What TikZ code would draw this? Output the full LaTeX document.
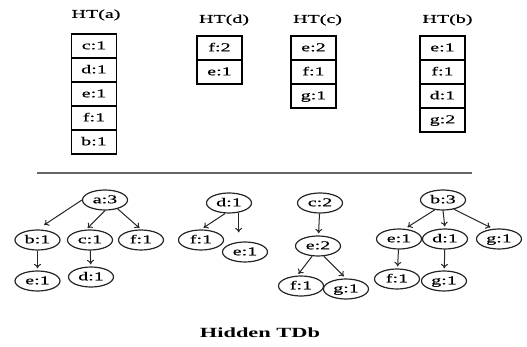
\documentclass[tikz,border=0pt]{standalone}
\usepackage{fontspec}
\setmainfont{Liberation Serif}
\newfontfamily\widefont{Liberation Serif}[FakeStretch=1.67,FakeBold=0.6]
\newfontfamily\widebold{Liberation Serif Bold}[FakeStretch=1.6]
\usetikzlibrary{positioning,shapes.geometric,arrows.meta}

\tikzset{cell/.style={draw=black,line width=1.3pt,minimum width=45pt,minimum height=24pt,
    inner sep=0pt,outer sep=0pt,text height=8.5pt,text depth=2pt,font=\widefont\fontsize{12}{14}\selectfont}}
\tikzset{title/.style={inner sep=0pt,font=\widefont\fontsize{12}{14}\selectfont}}
\tikzset{tnode/.style={ellipse,draw=black!85,line width=1.2pt,minimum width=45pt,minimum height=20pt,
    inner sep=0pt,text height=8.5pt,text depth=2pt,font=\widefont\fontsize{12}{14}\selectfont}}
\tikzset{arr/.style={draw=black!85,line width=1pt,-{To[length=4.5pt,width=7pt]},shorten >=2pt}}

\begin{document}
\begin{tikzpicture}[x=1pt,y=-1pt]
    \useasboundingbox (0,0) rectangle (527,347);
    % header tables
    \node[title] (hta) at (96,15)    {HT(a)};
    \node[cell]  (ta1) at (94,46)    {c:1};
    \node[cell,below=0pt of ta1] (ta2) {d:1};
    \node[cell,below=0pt of ta2] (ta3) {e:1};
    \node[cell,below=0pt of ta3] (ta4) {f:1};
    \node[cell,below=0pt of ta4] (ta5) {b:1};

    \node[title] (htd) at (224,20)   {HT(d)};
    \node[cell]  (td1) at (219.5,48) {f:2};
    \node[cell,below=0pt of td1] (td2) {e:1};

    \node[title] (htc) at (317.5,20) {HT(c)};
    \node[cell]  (tc1) at (313.5,48) {e:2};
    \node[cell,below=0pt of tc1] (tc2) {f:1};
    \node[cell,below=0pt of tc2] (tc3) {g:1};

    \node[title] (htb) at (447.5,20) {HT(b)};
    \node[cell]  (tb1) at (442.5,48) {e:1};
    \node[cell,below=0pt of tb1] (tb2) {f:1};
    \node[cell,below=0pt of tb2] (tb3) {d:1};
    \node[cell,below=0pt of tb3] (tb4) {g:2};

    % separator
    \draw[black!60,line width=1.3pt] (37,173) -- (472,173);

    % tree of a
    \node[tnode] (aa) at (105,200)  {a:3};
    \node[tnode] (ab) at (37.5,240) {b:1};
    \node[tnode] (ac) at (90,240)   {c:1};
    \node[tnode] (af) at (141,240)  {f:1};
    \node[tnode] (ae) at (37.5,281) {e:1};
    \node[tnode] (ad) at (91,277)   {d:1};
    \draw[arr,shorten >=8pt] (aa.west) -- (ab.north);
    \draw[arr] (aa.south) -- (ac.110);
    \draw[arr] (aa.-35)   -- (af.north);
    \draw[arr] (ab) -- (ae);
    \draw[arr] (ac) -- (ad);

    % tree of d
    \node[tnode] (dd) at (229,203) {d:1};
    \node[tnode] (df) at (201,240) {f:1};
    \node[tnode] (de) at (245,252) {e:1};
    \draw[arr,shorten >=3pt] (dd.-110) -- (df.north);
    \draw[arr,shorten >=9pt] (dd.-45)  -- (dd.-45 |- de.north);

    % tree of c
    \node[tnode] (cc) at (320,203) {c:2};
    \node[tnode] (ce) at (318,246) {e:2};
    \node[tnode] (cf) at (301,286) {f:1};
    \node[tnode] (cg) at (346,289) {g:1};
    \draw[arr] (cc) -- (ce);
    \draw[arr] (ce.-120) -- (cf.110);
    \draw[arr,shorten >=3pt] (ce.-60) -- (cg.north);

    % tree of b
    \node[tnode] (bb) at (443,200)  {b:3};
    \node[tnode] (be) at (399,239)  {e:1};
    \node[tnode] (bd) at (445,239)  {d:1};
    \node[tnode] (bg) at (499,239)  {g:1};
    \node[tnode] (bf) at (397,279)  {f:1};
    \node[tnode] (bh) at (444,281)  {g:1};
    \draw[arr,shorten >=3pt] (bb.-130) -- (be.60);
    \draw[arr] (bb.south) -- (bd.north);
    \draw[arr,shorten >=3pt] (bb.-40) -- (bg.120);
    \draw[arr] (be) -- (bf);
    \draw[arr] (bd) -- (bh);

    \node[title,font=\widebold\fontsize{14}{16}\selectfont] (cap) at (260,333) {Hidden TDb};
\end{tikzpicture}
\end{document}
